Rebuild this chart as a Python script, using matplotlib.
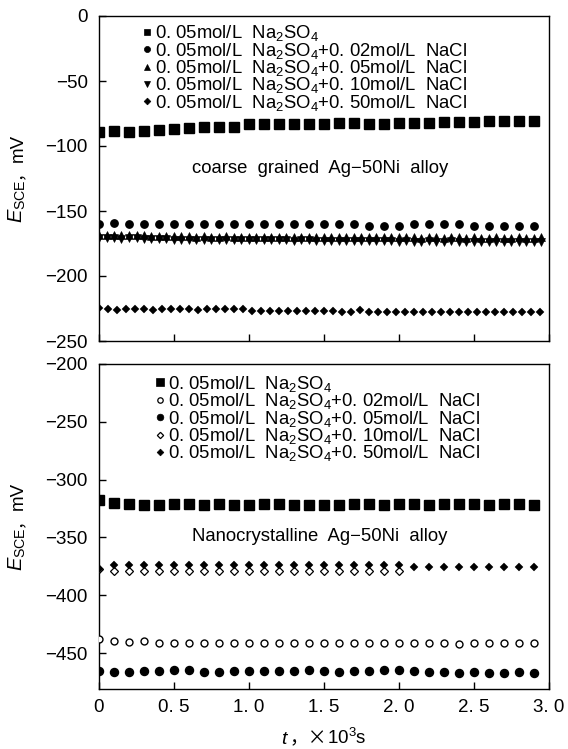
import matplotlib
matplotlib.use('Agg')
import matplotlib.pyplot as plt
from matplotlib.lines import Line2D
from matplotlib.transforms import IdentityTransform

plt.rcParams['font.family'] = ['Liberation Sans', 'Noto Sans CJK SC', 'DejaVu Sans']
plt.rcParams['mathtext.fontset'] = 'custom'
plt.rcParams['mathtext.rm'] = 'Liberation Sans'
plt.rcParams['mathtext.it'] = 'Liberation Sans:italic'
plt.rcParams['mathtext.bf'] = 'Liberation Sans:bold'
plt.rcParams['mathtext.sf'] = 'Liberation Sans'
plt.rcParams['axes.unicode_minus'] = True

# ---------------- data ----------------
t_a = [0.0, 0.1, 0.2, 0.3, 0.4, 0.5, 0.6, 0.7, 0.8, 0.9, 1.0, 1.1, 1.2, 1.3, 1.4,
       1.5, 1.6, 1.7, 1.8, 1.9, 2.0, 2.1, 2.2, 2.3, 2.4, 2.5, 2.6, 2.7, 2.8, 2.9]
t_b = [0.0, 0.05, 0.1, 0.15, 0.2, 0.25, 0.3, 0.35, 0.4, 0.45, 0.5, 0.55, 0.6, 0.65,
       0.7, 0.75, 0.8, 0.85, 0.9, 0.95, 1.0, 1.05, 1.1, 1.15, 1.2, 1.25, 1.3, 1.35,
       1.4, 1.45, 1.5, 1.55, 1.6, 1.65, 1.7, 1.75, 1.8, 1.85, 1.9, 1.95, 2.0, 2.05,
       2.1, 2.15, 2.2, 2.25, 2.3, 2.35, 2.4, 2.45, 2.5, 2.55, 2.6, 2.65, 2.7, 2.75,
       2.8, 2.85, 2.9, 2.95]
t_c = [0.0, 0.06, 0.12, 0.18, 0.24, 0.30, 0.36, 0.42, 0.48, 0.54, 0.60, 0.66, 0.72,
       0.78, 0.84, 0.90, 0.96, 1.02, 1.08, 1.14, 1.20, 1.26, 1.32, 1.38, 1.44, 1.50,
       1.56, 1.62, 1.68, 1.74, 1.80, 1.86, 1.92, 1.98, 2.04, 2.10, 2.16, 2.22, 2.28,
       2.34, 2.40, 2.46, 2.52, 2.58, 2.64, 2.70, 2.76, 2.82, 2.88, 2.94]
t_d = [0.0, 0.1, 0.2, 0.3, 0.4, 0.5, 0.6, 0.7, 0.8, 0.9, 1.0, 1.1, 1.2, 1.3, 1.4,
       1.5, 1.6, 1.7, 1.8, 1.9, 2.0]

# coarse grained (top)
cg_na2so4 = [-89.5, -88.2, -89.5, -88.2, -87.7, -86.9, -86.4, -85.6, -85.6, -85.1,
             -83.1, -83.1, -83.1, -83.1, -83.1, -83.1, -82.6, -82.6, -83.1, -83.1,
             -82.6, -82.6, -82.6, -81.3, -81.3, -81.3, -80.5, -80.5, -80.5, -80.5]
cg_nacl002 = [-160.0, -159.5, -160.0, -160.0, -160.0, -160.0, -160.0, -160.0, -160.0, -160.0,
              -160.0, -160.0, -160.0, -160.0, -160.0, -160.0, -160.0, -160.0, -161.5, -161.5,
              -161.5, -160.0, -160.0, -160.0, -160.0, -161.5, -161.5, -161.5, -161.5, -161.5]
cg_nacl005 = [-168.4, -168.6, -168.5, -168.7, -168.5, -168.6, -168.8, -169.0, -169.3, -169.4,
              -169.5, -169.4, -169.6, -169.7, -169.5, -169.7, -169.8, -169.6, -169.7, -169.9,
              -169.7, -170.0, -169.8, -169.9, -169.7, -170.0, -170.1, -169.9, -170.0, -170.2,
              -169.8, -170.0, -170.2, -169.9, -170.1, -170.0, -170.2, -170.3, -170.1, -170.2,
              -170.2, -169.9, -170.2, -170.4, -170.0, -170.2, -170.4, -170.0, -170.3, -170.5,
              -170.1, -170.4, -170.5, -170.1, -170.4, -170.6, -170.2, -170.5, -170.6, -170.3]
cg_nacl010 = [-171.0, -171.1, -170.9, -171.2, -171.0, -171.1, -171.3, -171.5, -171.8, -171.9,
              -172.1, -172.0, -172.2, -172.3, -172.1, -172.3, -172.4, -172.2, -172.3, -172.5,
              -172.3, -172.6, -172.4, -172.5, -172.3, -172.6, -172.7, -172.5, -172.6, -172.8,
              -172.8, -173.0, -173.2, -172.9, -173.1, -173.0, -173.2, -173.3, -173.1, -173.2,
              -173.6, -173.2, -173.5, -173.7, -173.3, -173.6, -173.8, -173.4, -173.7, -173.9,
              -173.7, -174.0, -174.1, -173.7, -174.0, -174.2, -173.8, -174.1, -174.2, -173.9]
cg_nacl050 = [-224.5, -225.5, -225.8, -225.6, -225.7, -225.5, -225.8, -225.6, -225.7, -225.5,
              -225.6, -225.8, -225.5, -225.7, -225.6, -225.4, -225.5, -226.8, -226.9, -226.7,
              -226.8, -226.9, -226.7, -226.8, -226.7, -226.9, -226.8, -228.0, -227.6, -226.3,
              -227.9, -227.8, -227.6, -227.9, -227.7, -227.8, -227.6, -227.9, -227.8, -227.7,
              -227.9, -227.8, -227.6, -227.8, -227.9, -227.7, -227.8, -227.9, -227.7, -227.8]

# nanocrystalline (bottom)
nc_na2so4 = [-317.5, -319.8, -321.2, -321.5, -321.8, -321.2, -321.3, -321.5, -321.0, -322.0,
             -321.5, -321.0, -321.3, -321.5, -322.0, -321.8, -322.0, -321.2, -321.3, -321.5,
             -321.4, -321.3, -321.5, -321.3, -321.4, -321.2, -321.5, -321.3, -321.4, -321.5]
nc_nacl002 = [-437.7, -439.2, -440.6, -439.8, -441.5, -440.9, -441.5, -441.5, -441.5, -441.5,
              -441.5, -440.9, -441.5, -440.9, -440.9, -440.9, -441.5, -441.5, -441.5, -440.9,
              -440.9, -441.5, -440.9, -441.5, -442.1, -441.5, -440.9, -440.9, -440.9, -440.9]
nc_nacl005 = [-465.7, -466.6, -466.6, -465.7, -465.1, -464.6, -464.6, -466.6, -466.6, -465.7,
              -465.7, -465.7, -465.1, -465.1, -464.6, -465.7, -466.6, -465.7, -465.7, -464.6,
              -464.6, -465.7, -466.6, -466.6, -467.5, -466.6, -467.5, -467.5, -466.6, -467.5]
nc_nacl010 = [-377.5, -378.6, -378.8, -378.7, -379.0, -378.6, -378.8, -378.7, -378.9, -378.6,
              -378.8, -378.7, -378.9, -378.6, -378.8, -378.7, -378.9, -378.6, -378.8, -378.7,
              -378.9]
nc_nacl050 = [-377.0, -373.8, -373.6, -374.0, -374.2, -373.8, -374.0, -373.9, -374.1, -373.8,
              -374.0, -373.9, -374.1, -373.8, -374.0, -373.9, -374.1, -373.8, -374.0, -373.9,
              -374.0, -375.6, -375.6, -375.6, -375.6, -375.6, -375.6, -375.6, -375.6, -375.6]

labels = ['0. 05mol/L  Na$_2$SO$_4$',
          '0. 05mol/L  Na$_2$SO$_4$+0. 02mol/L  NaCl',
          '0. 05mol/L  Na$_2$SO$_4$+0. 05mol/L  NaCl',
          '0. 05mol/L  Na$_2$SO$_4$+0. 10mol/L  NaCl',
          '0. 05mol/L  Na$_2$SO$_4$+0. 50mol/L  NaCl']

x_ticks = [0, 0.5, 1.0, 1.5, 2.0, 2.5, 3.0]
x_ticklabels = ['0', '0. 5', '1. 0', '1. 5', '2. 0', '2. 5', '3. 0']
top_yticks = [0, -50, -100, -150, -200, -250]
bot_yticks = [-200, -250, -300, -350, -400, -450]

# ---------------- figure ----------------
W, H = 568, 749
fig = plt.figure(figsize=(W / 100, H / 100), dpi=100)
L, R = 99 / W, 549 / W
ax1 = fig.add_axes([L, 1 - 341 / H, R - L, 325 / H])
ax2 = fig.add_axes([L, 1 - 689 / H, R - L, 325 / H])

K = 'black'
# top panel
ax1.plot(t_a, cg_na2so4, ls='none', marker='s', ms=6.7, color=K, mec=K, zorder=3)
ax1.plot(t_a, cg_nacl002, ls='none', marker='o', ms=5.3, color=K, mec=K, zorder=3)
ax1.plot(t_b, cg_nacl005, ls='none', marker='^', ms=5.6, color=K, mec=K, mew=0.4, zorder=3)
ax1.plot(t_b, cg_nacl010, ls='none', marker='v', ms=5.6, color=K, mec=K, mew=0.4, zorder=3)
ax1.plot(t_c, cg_nacl050, ls='none', marker='D', ms=4.3, color=K, mec=K, mew=0.3, zorder=3)

# bottom panel
ax2.plot(t_a, nc_na2so4, ls='none', marker='s', ms=6.7, color=K, mec=K, zorder=3)
ax2.plot(t_a, nc_nacl002, ls='none', marker='o', ms=5.0, mfc='white', mec=K, mew=1.0, zorder=3)
ax2.plot(t_a, nc_nacl005, ls='none', marker='o', ms=5.8, color=K, mec=K, zorder=3)
ax2.plot(t_d, nc_nacl010, ls='none', marker='D', ms=4.0, mfc='white', mec=K, mew=0.9, zorder=3)
ax2.plot(t_a, nc_nacl050, ls='none', marker='D', ms=4.3, color=K, mec=K, mew=0.3, zorder=4)

for ax in (ax1, ax2):
    ax.set_xlim(0, 3.0)
    ax.set_xticks(x_ticks)
    for s in ax.spines.values():
        s.set_linewidth(1.0)
    ax.tick_params(direction='in', length=5, width=1.0, labelsize=13.5,
                   top=False, right=False)
    ax.tick_params(axis='y', pad=8)
    ax.tick_params(axis='x', pad=7)

ax1.set_ylim(-250, 0)
ax1.set_yticks(top_yticks)
ax1.set_yticklabels([str(v).replace('-', '\u2212') for v in top_yticks])
ax1.set_xticklabels([])

ax2.set_ylim(-481, -200)
ax2.set_yticks(bot_yticks)
ax2.set_yticklabels([str(v).replace('-', '\u2212') for v in bot_yticks])
ax2.set_xticklabels(x_ticklabels)

# legends
def H_(marker, ms, filled=True, mew=0.5):
    return Line2D([], [], ls='none', marker=marker, ms=ms,
                  mfc=K if filled else 'white', mec=K, mew=mew)

h_top = [H_('s', 5.0), H_('o', 4.4), H_('^', 5.0), H_('v', 5.0), H_('D', 3.4)]
h_bot = [H_('s', 5.4), H_('o', 3.9, False, 0.9), H_('o', 4.8), H_('D', 3.2, False, 0.9), H_('D', 3.4)]

leg_kw = dict(loc='upper left', frameon=False, fontsize=13.3, labelspacing=-0.14,
              handlelength=0.55, handletextpad=0.15, borderpad=0, borderaxespad=0)
ax1.legend(h_top, labels, bbox_to_anchor=(0.095, 0.978), **leg_kw)
ax2.legend(h_bot, labels, bbox_to_anchor=(0.124, 0.97), **leg_kw)

ax1.text(0.491, 0.53, 'coarse  grained  Ag\u221250Ni  alloy', transform=ax1.transAxes,
         ha='center', va='center', fontsize=13.3)
ax2.text(0.491, 0.47, 'Nanocrystalline  Ag\u221250Ni  alloy', transform=ax2.transAxes,
         ha='center', va='center', fontsize=13.3)

# composite axis labels
renderer = fig.canvas.get_renderer()


def compose(pieces, x, y, rotation=0):
    arts = [fig.text(0, 0, s, rotation=rotation, rotation_mode='anchor', ha='left',
                     va='baseline', transform=IdentityTransform(), **kw)
            for s, kw in pieces]
    lens = []
    for a in arts:
        bb = a.get_window_extent(renderer)
        lens.append(bb.height if rotation == 90 else bb.width)
    pos = -sum(lens) / 2
    for a, ln in zip(arts, lens):
        if rotation == 90:
            a.set_position((x, y + pos))
        else:
            a.set_position((x + pos, y))
        pos += ln


ylab = [(r'$E_{\mathrm{SCE}}$', dict(fontsize=14.5)),
        ('\uff0c', dict(fontsize=12, family=['Noto Sans CJK SC'])),
        ('mV', dict(fontsize=13.5))]
compose(ylab, 22.5, H - 178.5, rotation=90)
compose(ylab, 22.5, H - 526.5, rotation=90)

xlab = [(r'$t$', dict(fontsize=14)),
        ('\uff0c\u00d7', dict(fontsize=13.5, family=['Noto Sans CJK SC'])),
        ('10$^3$s', dict(fontsize=13.5))]
compose(xlab, 324, H - 744)

fig.savefig('out.png', dpi=100)
